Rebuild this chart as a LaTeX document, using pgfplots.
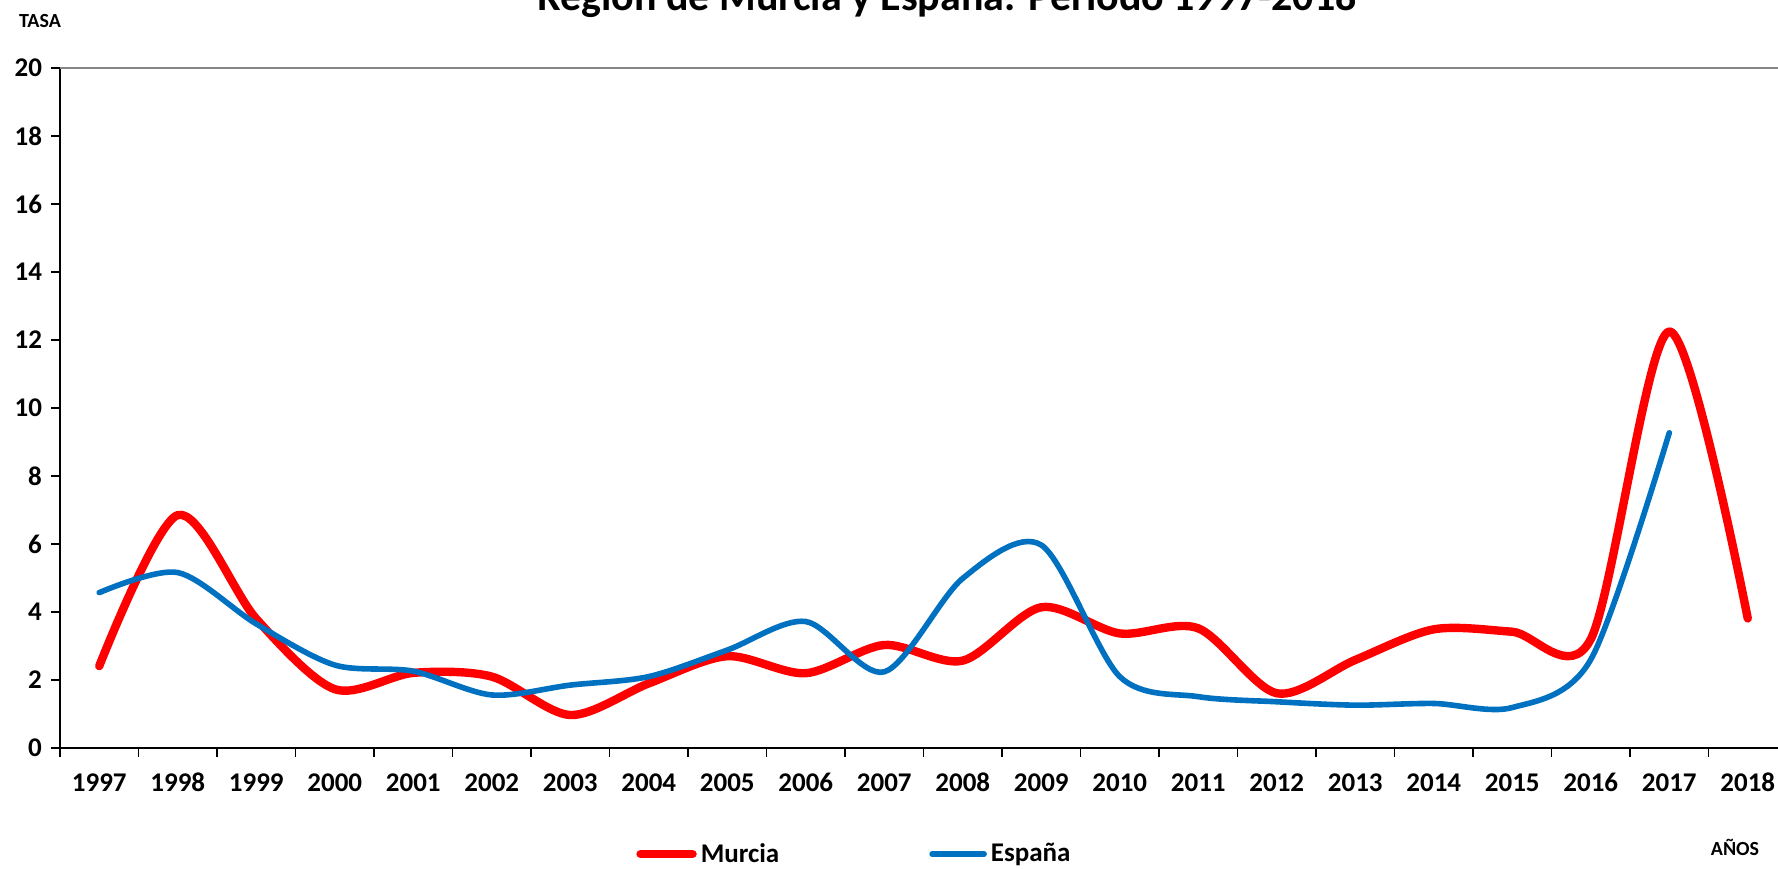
\documentclass[border=0pt]{standalone}
\usepackage{fontspec}
\setmainfont{Carlito}
\usepackage{pgfplots}
\usepackage{pgfplotstable}
\pgfplotsset{compat=1.18}

\definecolor{murcia}{RGB}{255,0,0}
\definecolor{espana}{RGB}{0,112,192}
\definecolor{marco}{RGB}{134,134,134}

% 0 = 1997 ... 21 = 2018
\pgfplotstableread{
x y
0 2.41
1 6.85
2 3.80
3 1.73
4 2.21
5 2.10
6 0.97
7 1.90
8 2.70
9 2.20
10 3.03
11 2.57
12 4.14
13 3.37
14 3.52
15 1.61
16 2.59
17 3.49
18 3.42
19 3.20
20 12.25
21 3.81
}\murciadata

\pgfplotstableread{
x y
0 4.57
1 5.16
2 3.65
3 2.44
4 2.26
5 1.56
6 1.85
7 2.10
8 2.88
9 3.72
10 2.24
11 4.99
12 5.97
13 2.10
14 1.51
15 1.36
16 1.26
17 1.31
18 1.19
19 2.60
20 9.27
}\espanadata

\begin{document}
\begin{tikzpicture}
\begin{axis}[
    name=ax,
    scale only axis,
    width=863.5pt, height=340pt,
    xmin=-0.5, xmax=21.5,
    ymin=0, ymax=20,
    axis x line*=bottom,
    axis y line*=left,
    axis line style={black, line width=1pt, -},
    xtick={-0.5,0.5,...,21.5},
    x tick label as interval,
    xticklabels={1997,1998,1999,2000,2001,2002,2003,2004,2005,2006,2007,2008,2009,2010,2011,2012,2013,2014,2015,2016,2017,2018},
    ytick={0,2,...,20},
    /pgf/number format/assume math mode=true,
    tick align=outside,
    major tick length=4.5pt,
    tick style={black, line width=0.8pt},
    tick label style={font=\bfseries\fontsize{13.5}{13.5}\selectfont},
    xticklabel style={text height=9.5pt, text depth=0pt, yshift=-4pt},
    yticklabel style={xshift=-1pt},
    clip=false,
    legend columns=2,
    legend style={
        at={(axis description cs:0.3335,-0.1560)}, anchor=west,
        draw=none, fill=none, inner sep=0pt,
        font=\bfseries\fontsize{13.5}{13.5}\selectfont,
        nodes={inner sep=2pt},
        /tikz/every even column/.append style={column sep=73pt},
    },
    legend image code/.code={\draw[#1, line cap=round] (0pt,0pt) -- (26pt,0pt);},
]
\addplot[murcia, line width=4.2pt, smooth, tension=0.5, line cap=round, line join=round]
    table[x=x, y=y] {\murciadata};
\addplot[espana, line width=2.8pt, smooth, tension=0.5, line cap=round, line join=round]
    table[x=x, y=y] {\espanadata};
\legend{Murcia, España}
\end{axis}

\begin{scope}[shift={(ax.south west)}]
    \draw[marco, line width=1.2pt] (0pt,340pt) -- (880pt,340pt);
    \node[font=\bfseries\fontsize{21}{21}\selectfont, anchor=base, inner sep=0pt]
        at (443.5pt,368.5pt) {Región de Murcia y España. Periodo 1997-2018};
    \node[font=\bfseries\fontsize{10}{10}\selectfont, inner sep=0pt] at (-10pt,363.5pt) {TASA};
    \node[font=\bfseries\fontsize{10}{10}\selectfont, anchor=base, inner sep=0pt] at (837.5pt,-53.5pt) {AÑOS};
    \pgfresetboundingbox
    \path[use as bounding box] (-30pt,-60pt) rectangle (859pt,374pt);
\end{scope}
\end{tikzpicture}
\end{document}
